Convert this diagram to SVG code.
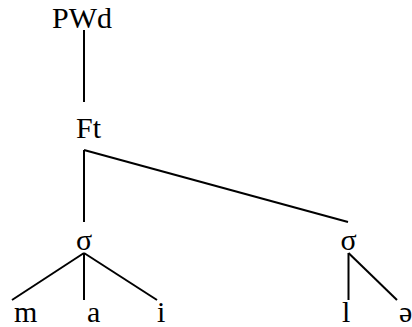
<svg xmlns="http://www.w3.org/2000/svg" width="412" height="327" viewBox="0 0 412 327">
<style>
text{font-family:"Liberation Serif","Times New Roman",serif;font-size:30px;fill:#000}
.c line{stroke:#000;stroke-width:2;fill:none}
</style>
<rect width="412" height="327" fill="#fff"/>
<g class="c" id="connectors">
<line x1="84" y1="30" x2="84" y2="102"/>
<line x1="84" y1="150" x2="84" y2="222"/>
<line x1="84" y1="150" x2="348" y2="222"/>
<line x1="84" y1="253" x2="12" y2="300"/>
<line x1="84" y1="253" x2="84" y2="300"/>
<line x1="84" y1="253" x2="157" y2="300"/>
<line x1="348.5" y1="253" x2="348.5" y2="300"/>
<line x1="348.5" y1="253" x2="397" y2="300"/>
</g>
<g id="pwd"><text x="52" y="28">PWd</text></g>
<g id="ft"><text x="76" y="138">Ft</text></g>
<g id="sigma1"><text x="84" y="250" text-anchor="middle">σ</text></g>
<g id="sigma2"><text x="348.5" y="250" text-anchor="middle">σ</text></g>
<g id="m"><text x="14" y="322">m</text></g>
<g id="a"><text x="87" y="322">a</text></g>
<g id="i"><text x="157" y="322">i</text></g>
<g id="l"><text x="342" y="322">l</text></g>
<g id="schwa"><text x="399" y="322">ə</text></g>
</svg>
